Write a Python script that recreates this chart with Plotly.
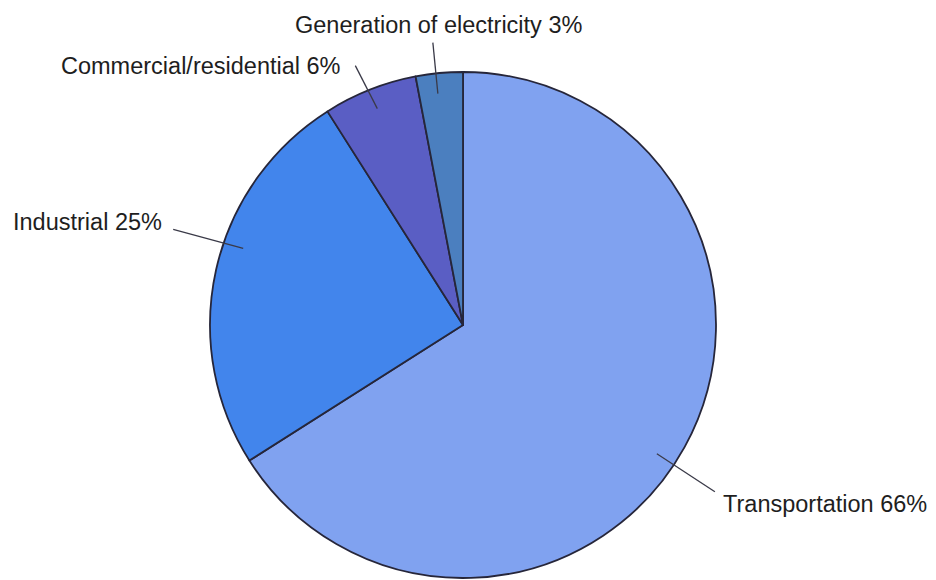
import math
import plotly.graph_objects as go

# Data
categories = ["Transportation", "Industrial", "Commercial/residential", "Generation of electricity"]
values = [66, 25, 6, 3]
label_texts = ["Transportation 66%", "Industrial 25%", "Commercial/residential 6%", "Generation of electricity 3%"]

# Styles
colors = ["#80a2f0", "#4285ec", "#5a5ec4", "#4b7fbf"]
W, H = 936, 580
CX, CY, R = 463, 325, 253          # pie centre and radius in pixels
TIP_FRAC = 0.92                      # leader line inner end as fraction of radius
tip_angle_nudge = [4.8, 6.6, 0.0, -0.8]   # degrees, leader placement tweak
# leader line outer end offsets (pixels) and text offsets from the line end
line_offsets = [(58, 38), (-70, -19), (-22, -43), (-5, -51)]
text_offsets = [(6, 12), (-9, -7), (-12, 0), (6, -18)]
text_anchors = ["left", "right", "right", "center"]

def px2paper(px, py):
    return px / W, 1 - py / H

fig = go.Figure(go.Pie(
    labels=categories,
    values=values,
    sort=False,
    direction="clockwise",
    rotation=0,
    textinfo="none",
    hoverinfo="label+percent",
    marker=dict(colors=colors, line=dict(color="#26263a", width=1.8)),
    domain=dict(x=[(CX - R) / W, (CX + R) / W], y=[1 - (CY + R) / H, 1 - (CY - R) / H]),
    showlegend=False,
))

total = sum(values)
cum = 0
shapes = []
annotations = []
for i, v in enumerate(values):
    mid = (cum + v / 2) / total * 2 * math.pi + math.radians(tip_angle_nudge[i])
    cum += v
    tx = CX + TIP_FRAC * R * math.sin(mid)
    ty = CY - TIP_FRAC * R * math.cos(mid)
    ex = tx + line_offsets[i][0]
    ey = ty + line_offsets[i][1]
    x0, y0 = px2paper(tx, ty)
    x1, y1 = px2paper(ex, ey)
    shapes.append(dict(type="line", xref="paper", yref="paper", x0=x0, y0=y0, x1=x1, y1=y1,
                       line=dict(color="#3a3a48", width=1.3)))
    lx, ly = px2paper(ex + text_offsets[i][0], ey + text_offsets[i][1])
    annotations.append(dict(text=label_texts[i], x=lx, y=ly, xref="paper", yref="paper",
                            showarrow=False, xanchor=text_anchors[i], yanchor="middle",
                            font=dict(family="Liberation Sans, Arial, sans-serif", size=23.5, color="#1e1e1e")))

fig.update_layout(
    width=W, height=H,
    margin=dict(l=0, r=0, t=0, b=0),
    paper_bgcolor="white",
    plot_bgcolor="white",
    shapes=shapes,
    annotations=annotations,
)

fig.write_html("out.html")
